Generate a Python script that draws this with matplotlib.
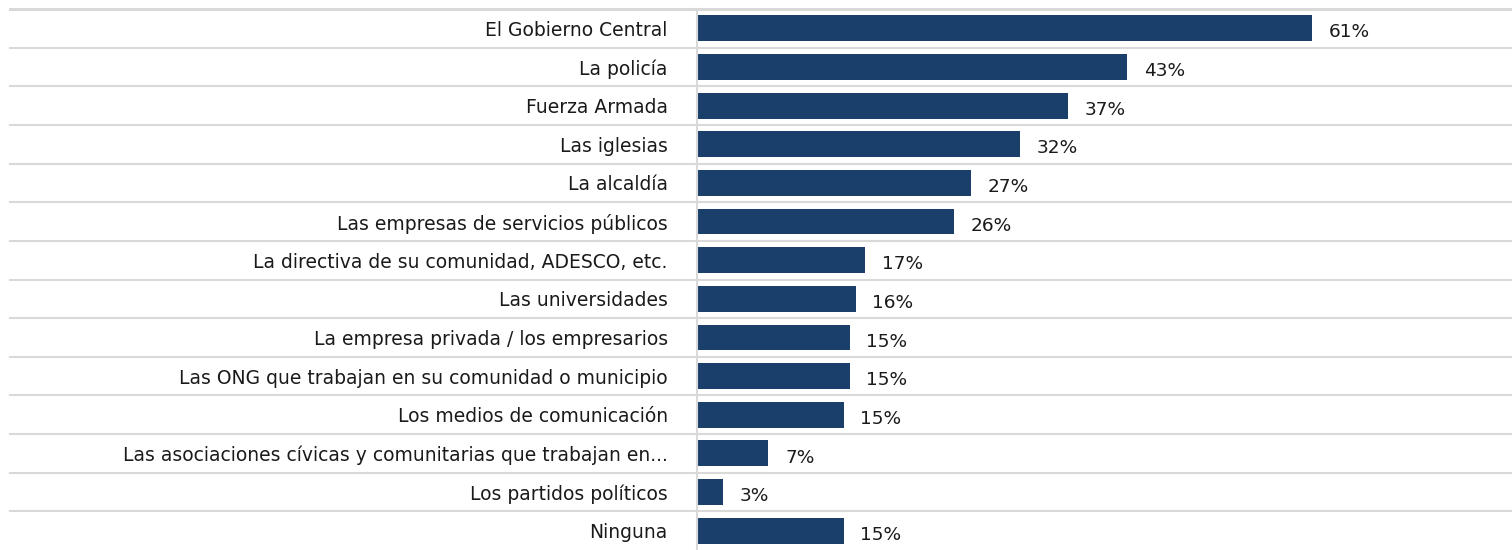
import matplotlib.pyplot as plt

categories = [
    "El Gobierno Central",
    "La policía",
    "Fuerza Armada",
    "Las iglesias",
    "La alcaldía",
    "Las empresas de servicios públicos",
    "La directiva de su comunidad, ADESCO, etc.",
    "Las universidades",
    "La empresa privada / los empresarios",
    "Las ONG que trabajan en su comunidad o municipio",
    "Los medios de comunicación",
    "Las asociaciones cívicas y comunitarias que trabajan en...",
    "Los partidos políticos",
    "Ninguna",
]
values = [61.2, 42.8, 36.9, 32.1, 27.3, 25.6, 16.7, 15.8, 15.2, 15.2, 14.6, 7.1, 2.6, 14.6]

bar_color = "#1b3f6b"
grid_color = "#d9d9d9"
text_color = "#1a1a1a"

plt.rcParams['font.family'] = ['DejaVu Sans']

fig = plt.figure(figsize=(15.12, 5.5), dpi=100)
ax = fig.add_axes([697 / 1512, 0, 1 - 697 / 1512, 1 - 9 / 550])

ypos = list(range(len(categories)))
ax.barh(ypos, values, height=0.67, color=bar_color)

for y, v in zip(ypos, values):
    ax.annotate(f"{v:.0f}%", (v, y), xytext=(12, -3), textcoords="offset points",
                ha="left", va="center", fontsize=13.3, color=text_color)

ax.set_xlim(0, (1512 - 697) / 10.05)
ax.set_ylim(len(categories) - 0.5, -0.5)

# row separators, running under the labels too
xmin = (10 - 697) / (1512 - 697)
for b in range(len(categories)):
    ax.axhline(b - 0.5, xmin=xmin, xmax=1, color=grid_color, lw=1.5 if b else 2.2,
               clip_on=False, zorder=0)

ax.set_yticks(ypos)
ax.set_yticklabels(categories, fontsize=13.5, color=text_color)
ax.tick_params(axis="y", length=0, pad=21)
ax.set_xticks([])

for s in ["top", "right", "bottom"]:
    ax.spines[s].set_visible(False)
ax.spines["left"].set_color(grid_color)
ax.spines["left"].set_linewidth(1.5)

fig.savefig("out.png", dpi=100)
